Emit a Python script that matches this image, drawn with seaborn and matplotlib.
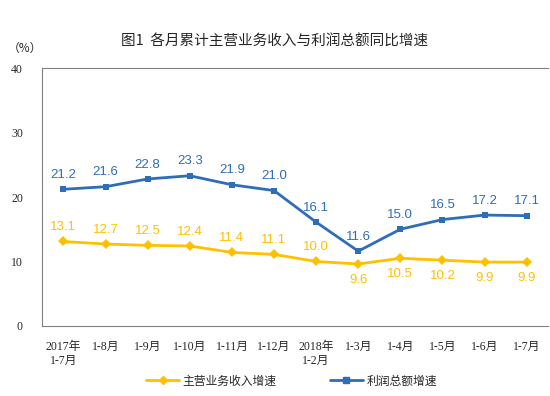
import matplotlib
matplotlib.use("Agg")
import matplotlib.pyplot as plt
import seaborn as sns
import pandas as pd
from matplotlib.lines import Line2D

categories = ["2017年\n1-7月", "1-8月", "1-9月", "1-10月", "1-11月", "1-12月",
              "2018年\n1-2月", "1-3月", "1-4月", "1-5月", "1-6月", "1-7月"]
revenue = [13.1, 12.7, 12.5, 12.4, 11.4, 11.1, 10.0, 9.6, 10.5, 10.2, 9.9, 9.9]
profit = [21.2, 21.6, 22.8, 23.3, 21.9, 21.0, 16.1, 11.6, 15.0, 16.5, 17.2, 17.1]
revenue_label_below = [False]*7 + [True]*5
yticks = [0, 10, 20, 30, 40]
series_names = ["主营业务收入增速", "利润总额增速"]

sns.set_theme(style="white")
plt.rcParams['font.family'] = ['Noto Sans CJK SC', 'DejaVu Sans']

ORANGE = "#FFC000"
BLUE = "#2E6DB9"

df = pd.DataFrame({"cat": categories, "rev": revenue, "pro": profit, "x": range(len(categories))})

fig = plt.figure(figsize=(5.5, 3.96), dpi=100)
ax = fig.add_axes([0.077, 0.177, 0.919, 0.651])

sns.lineplot(data=df, x="x", y="rev", ax=ax, color=ORANGE, marker="D", markersize=5,
             markeredgewidth=0, linewidth=2)
sns.lineplot(data=df, x="x", y="pro", ax=ax, color=BLUE, marker="s", markersize=5,
             markeredgewidth=0, linewidth=2)

for i, v in enumerate(profit):
    ax.annotate(f"{v:.1f}", (i, v), xytext=(0, 6), textcoords="offset points",
                ha="center", va="bottom", color=BLUE, fontsize=9.5, family="Liberation Sans")
for i, v in enumerate(revenue):
    if revenue_label_below[i]:
        ax.annotate(f"{v:.1f}", (i, v), xytext=(0, -7), textcoords="offset points",
                    ha="center", va="top", color=ORANGE, fontsize=9.5, family="Liberation Sans")
    else:
        ax.annotate(f"{v:.1f}", (i, v), xytext=(0, 6), textcoords="offset points",
                    ha="center", va="bottom", color=ORANGE, fontsize=9.5, family="Liberation Sans")

ax.set_xlim(-0.5, len(categories) - 0.5)
ax.set_ylim(0, 40)
ax.set_yticks(yticks)
ax.set_yticklabels([str(t) for t in yticks], family=["Liberation Serif"], fontsize=8.5)
ax.set_xticks(range(len(categories)))
ax.set_xticklabels(categories, fontsize=8.5, family=["Liberation Serif", "Noto Sans CJK SC"],
                   linespacing=1.2)
ax.set_xticks([i + 0.5 for i in range(len(categories) - 1)], minor=True)
ax.tick_params(axis="x", which="major", length=0, pad=11)
ax.tick_params(axis="x", which="minor", direction="in", length=3, color="#808080", width=0.8)
ax.tick_params(axis="y", which="major", direction="in", length=3, color="#808080", width=0.8, pad=14)
ax.set_xlabel("")
ax.set_ylabel("")

for s in ["left", "bottom", "top"]:
    ax.spines[s].set_color("#808080")
    ax.spines[s].set_linewidth(0.8)
ax.spines["right"].set_visible(False)
ax.grid(False)

fig.text(0.5, 0.895, "图1  各月累计主营业务收入与利润总额同比增速", ha="center", va="center",
         fontsize=10.5, family=["Noto Sans CJK SC"])
fig.text(0.015, 0.878, "（%）", ha="left", va="center", fontsize=8.5, family=["Noto Sans CJK SC"])

handles = [Line2D([0], [0], color=ORANGE, marker="D", markersize=4, linewidth=2),
           Line2D([0], [0], color=BLUE, marker="s", markersize=4, linewidth=2)]
fig.legend(handles, series_names, loc="center", bbox_to_anchor=(0.53, 0.038), ncol=2,
           frameon=False, fontsize=8.5, handlelength=2.8, columnspacing=4.5, handletextpad=0.3)

fig.savefig("out.png", dpi=100)
